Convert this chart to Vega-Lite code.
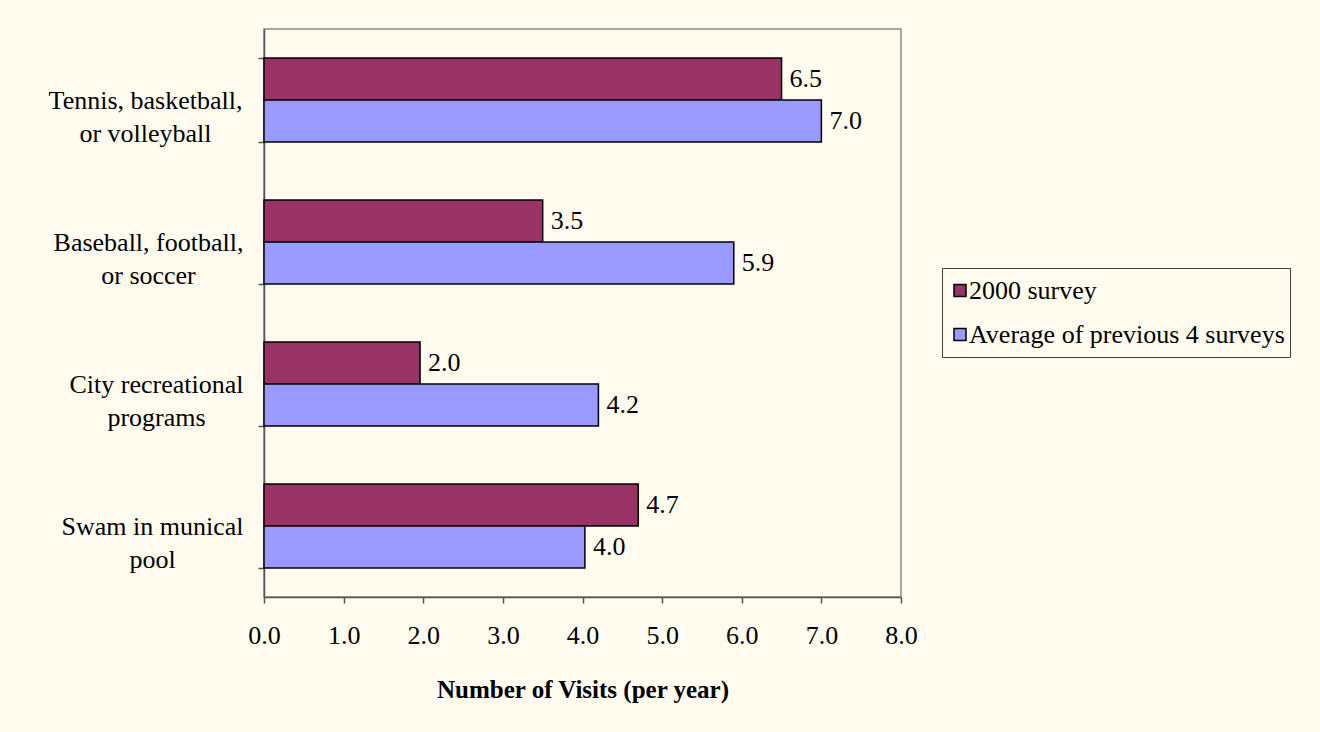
{
  "$schema": "https://vega.github.io/schema/vega-lite/v6.json",
  "width": 637,
  "height": 568,
  "autosize": {"type": "none"},
  "padding": {"left": 264, "top": 29, "right": 419, "bottom": 135},
  "background": "#FFFCEF",
  "config": {
    "font": "Liberation Serif",
    "view": {"stroke": "#888888", "strokeWidth": 1.5, "fill": "#FFFCEF"}
  },
  "data": {
    "values": [
      {"activity": "Tennis, basketball, or volleyball", "series": "2000 survey", "visits": 6.5},
      {"activity": "Tennis, basketball, or volleyball", "series": "Average of previous 4 surveys", "visits": 7.0},
      {"activity": "Baseball, football, or soccer", "series": "2000 survey", "visits": 3.5},
      {"activity": "Baseball, football, or soccer", "series": "Average of previous 4 surveys", "visits": 5.9},
      {"activity": "City recreational programs", "series": "2000 survey", "visits": 1.96},
      {"activity": "City recreational programs", "series": "Average of previous 4 surveys", "visits": 4.2},
      {"activity": "Swam in munical pool", "series": "2000 survey", "visits": 4.7},
      {"activity": "Swam in munical pool", "series": "Average of previous 4 surveys", "visits": 4.03}
    ]
  },
  "encoding": {
    "y": {
      "field": "activity",
      "type": "nominal",
      "sort": null,
      "scale": {"paddingInner": 0.41, "paddingOuter": 0.205},
      "axis": {
        "title": null,
        "labelExpr": "split(replace(replace(replace(datum.label, ', or ', ',|or '), 'recreational ', 'recreational|'), 'munical ', 'munical|'), '|')",
        "labelFontSize": 26,
        "labelLineHeight": 33,
        "labelColor": "#000000",
        "labelAlign": "center",
        "labelBaseline": "middle",
        "labelPadding": {
          "condition": [
            {"test": "indexof(datum.label, 'Tennis') >= 0", "value": 113},
            {"test": "indexof(datum.label, 'Baseball') >= 0", "value": 110},
            {"test": "indexof(datum.label, 'City') >= 0", "value": 102}
          ],
          "value": 106
        },
        "labelLimit": 400,
        "tickBand": "extent",
        "tickSize": 6,
        "tickColor": "#555555",
        "domainColor": "#555555",
        "domainWidth": 1.5,
        "tickWidth": 1.5,
        "grid": false
      }
    },
    "yOffset": {
      "field": "series",
      "type": "nominal",
      "sort": ["2000 survey", "Average of previous 4 surveys"],
      "scale": {"paddingInner": 0, "paddingOuter": 0}
    },
    "x": {
      "field": "visits",
      "type": "quantitative",
      "scale": {"domain": [0, 8], "nice": false},
      "axis": {
        "title": "Number of Visits (per year)",
        "titleFontSize": 25,
        "titleFontWeight": "bold",
        "titleColor": "#000000",
        "titlePadding": 29,
        "values": [0, 1, 2, 3, 4, 5, 6, 7, 8],
        "format": ".1f",
        "labelFontSize": 26,
        "labelColor": "#000000",
        "labelPadding": 19,
        "labelFlush": false,
        "tickSize": 6,
        "tickColor": "#555555",
        "domainColor": "#555555",
        "domainWidth": 1.5,
        "tickWidth": 1.5,
        "grid": false
      }
    }
  },
  "layer": [
    {
      "mark": {"type": "bar", "stroke": "#000000", "strokeWidth": 1.5},
      "encoding": {
        "color": {
          "field": "series",
          "type": "nominal",
          "scale": {"domain": ["2000 survey", "Average of previous 4 surveys"], "range": ["#993366", "#9999FF"]},
          "legend": {
            "title": null,
            "orient": "none",
            "legendX": 678,
            "legendY": 239,
            "strokeColor": "#404040",
            "fillColor": "#FFFCEF",
            "padding": 5,
            "clipHeight": 35,
            "symbolType": "square",
            "symbolSize": 144,
            "symbolStrokeColor": "#000000",
            "symbolStrokeWidth": 1.5,
            "symbolOpacity": 1,
            "labelFontSize": 26,
            "labelColor": "#000000",
            "labelOffset": -4,
            "labelLimit": 500,
            "rowPadding": 9
          }
        }
      }
    },
    {
      "mark": {"type": "text", "align": "left", "baseline": "middle", "dx": 8, "fontSize": 26, "color": "#000000"},
      "encoding": {
        "text": {"field": "visits", "type": "quantitative", "format": ".1f"}
      }
    }
  ]
}
